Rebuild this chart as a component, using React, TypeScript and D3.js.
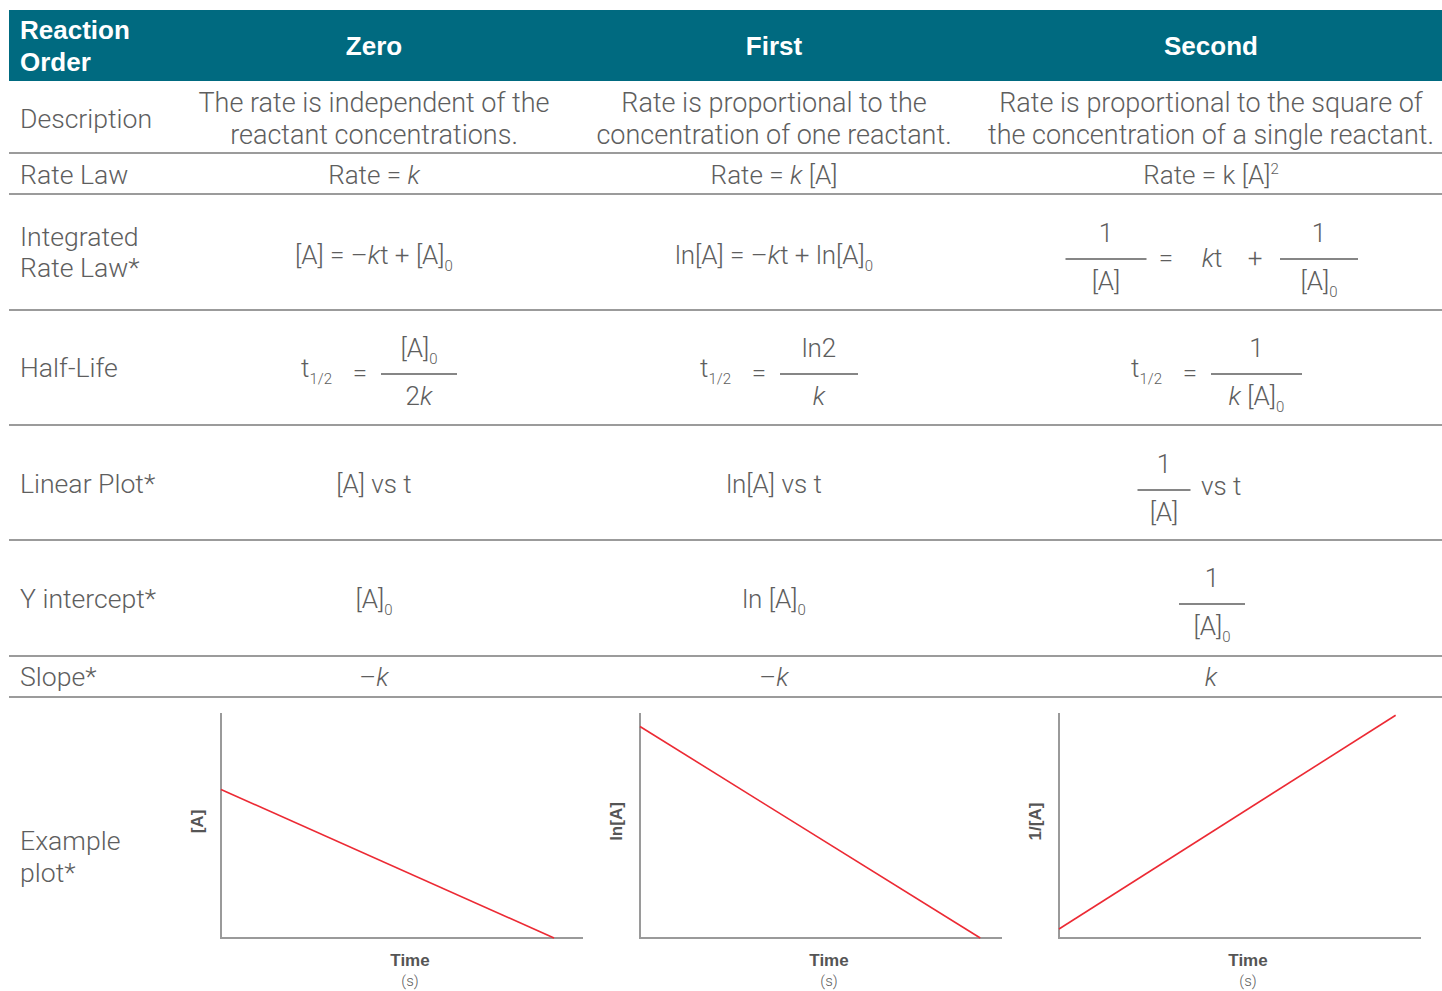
import React from "react";
import * as d3 from "d3";

// column headers and row labels
const orders = ["Zero", "First", "Second"];
const descriptions = [
  ["The rate is independent of the", "reactant concentrations."],
  ["Rate is proportional to the", "concentration of one reactant."],
  ["Rate is proportional to the square of", "the concentration of a single reactant."],
];
const linearPlots = ["[A] vs t", "ln[A] vs t"];
const yAxisLabels = ["[A]", "ln[A]", "1/[A]"];

// example plot lines, in % of each axis (time, y)
const zeroLine: [number, number][] = [[0, 66], [92, 0]];
const firstLine: [number, number][] = [[0, 94], [94, 0]];
const secondLine: [number, number][] = [[0, 4], [93, 99]];
const plotLines = [zeroLine, firstLine, secondLine];

const W = 1442;
const H = 991;
const colX = [374, 774, 1211];
const rowLines = [153, 194, 310, 425, 540, 656, 697];
const plotLeft = [221, 640, 1059];
const plotW = 362;
const plotTop = 713;
const plotBottom = 938;

const TEXT = "#5e5e5e";
const RULE = "#7a7a7a";
const TEAL = "#006a80";
const RED = "#ec2a34";

const body: React.CSSProperties = {
  fontFamily: "Roboto, 'Liberation Sans', sans-serif",
  fontWeight: 300,
  fontSize: 26,
  fill: TEXT,
};
const label: React.CSSProperties = { ...body, fontSize: 26.6 };
const desc: React.CSSProperties = { ...body, fontSize: 27 };
const small = 15;

const Frac = ({ x, y, w, num, den }: { x: number; y: number; w: number; num: React.ReactNode; den: React.ReactNode }) => (
  <g>
    <text x={x} y={y - 17} textAnchor="middle" style={body}>{num}</text>
    <line x1={x - w / 2} x2={x + w / 2} y1={y} y2={y} stroke={TEXT} strokeWidth={1.3} />
    <text x={x} y={y + 31} textAnchor="middle" style={body}>{den}</text>
  </g>
);

const Half = ({ x, num, den, w }: { x: number; num: React.ReactNode; den: React.ReactNode; w: number }) => (
  <g>
    <text x={x} y={377} style={body}>
      t<tspan fontSize={small} dy={7}>1/2</tspan>
    </text>
    <text x={x + 59} y={382} textAnchor="middle" style={body}>=</text>
    <Frac x={x + 80 + w / 2} y={374} w={w} num={num} den={den} />
  </g>
);

const Plot = ({ i }: { i: number }) => {
  const x = d3.scaleLinear().domain([0, 100]).range([plotLeft[i], plotLeft[i] + plotW]);
  const y = d3.scaleLinear().domain([0, 100]).range([plotBottom, plotTop]);
  const line = d3.line<[number, number]>().x((d) => x(d[0])).y((d) => y(d[1]));
  const cx = (x(0) + x(100)) / 2 + 8;
  const bold: React.CSSProperties = { fontFamily: "'Liberation Sans', Arial, sans-serif", fontWeight: 700, fontSize: 17, fill: "#555" };
  return (
    <g>
      <path d={`M${x(0)},${y(100)}V${y(0)}H${x(100)}`} fill="none" stroke="#9a9a9a" strokeWidth={2} />
      <path d={line(plotLines[i]) ?? ""} fill="none" stroke={RED} strokeWidth={1.6} />
      <text transform={`translate(${x(0) - 18},${y(50) - 4}) rotate(-90)`} textAnchor="middle" style={bold}>
        {yAxisLabels[i]}
      </text>
      <text x={cx} y={966} textAnchor="middle" style={bold}>Time</text>
      <text x={cx} y={986} textAnchor="middle" style={{ ...body, fontSize: 15 }}>(s)</text>
    </g>
  );
};

export default function App() {
  const head: React.CSSProperties = {
    fontFamily: "'Liberation Sans', Arial, sans-serif",
    fontWeight: 700,
    fontSize: 26,
    fill: "#fff",
  };
  return (
    <svg width={W} height={H} style={{ position: "absolute", left: 0, top: 0, background: "#fff" }}>
      {/* header band */}
      <rect x={9} y={10} width={W - 9} height={71} fill={TEAL} />
      <text x={20} y={39} style={head}>Reaction</text>
      <text x={20} y={71} style={head}>Order</text>
      {orders.map((o, i) => (
        <text key={o} x={colX[i]} y={55} textAnchor="middle" style={head}>{o}</text>
      ))}

      {rowLines.map((ry) => (
        <line key={ry} x1={9} x2={W} y1={ry} y2={ry} stroke={RULE} strokeWidth={1.6} />
      ))}

      {/* row labels */}
      <text x={20} y={128} style={label}>Description</text>
      <text x={20} y={184} style={label}>Rate Law</text>
      <text x={20} y={246} style={label}>Integrated</text>
      <text x={20} y={277} style={label}>Rate Law*</text>
      <text x={20} y={377} style={label}>Half-Life</text>
      <text x={20} y={493} style={label}>Linear Plot*</text>
      <text x={20} y={608} style={label}>Y intercept*</text>
      <text x={20} y={686} style={label}>Slope*</text>
      <text x={20} y={850} style={label}>Example</text>
      <text x={20} y={882} style={label}>plot*</text>

      {/* description */}
      {descriptions.map((d, i) => (
        <g key={i}>
          <text x={colX[i]} y={112} textAnchor="middle" style={desc}>{d[0]}</text>
          <text x={colX[i]} y={144} textAnchor="middle" style={desc}>{d[1]}</text>
        </g>
      ))}

      {/* rate law */}
      <text x={colX[0]} y={184} textAnchor="middle" style={body}>
        Rate = <tspan fontStyle="italic">k</tspan>
      </text>
      <text x={colX[1]} y={184} textAnchor="middle" style={body}>
        Rate = <tspan fontStyle="italic">k</tspan> [A]
      </text>
      <text x={colX[2]} y={184} textAnchor="middle" style={body}>
        Rate = k [A]<tspan fontSize={small} dy={-10}>2</tspan>
      </text>

      {/* integrated rate law */}
      <text x={colX[0]} y={264} textAnchor="middle" style={body}>
        [A] = –<tspan fontStyle="italic">k</tspan>t + [A]<tspan fontSize={small} dy={7}>0</tspan>
      </text>
      <text x={colX[1]} y={264} textAnchor="middle" style={body}>
        ln[A] = –<tspan fontStyle="italic">k</tspan>t + ln[A]<tspan fontSize={small} dy={7}>0</tspan>
      </text>
      <Frac x={1106} y={259} w={81} num="1" den="[A]" />
      <text x={1166} y={267} textAnchor="middle" style={body}>=</text>
      <text x={1212} y={267} textAnchor="middle" style={body}>
        <tspan fontStyle="italic">k</tspan>t
      </text>
      <text x={1255} y={267} textAnchor="middle" style={body}>+</text>
      <Frac x={1319} y={259} w={78} num="1" den={<>[A]<tspan fontSize={small} dy={7}>0</tspan></>} />

      {/* half-life */}
      <Half x={301} w={76} num={<>[A]<tspan fontSize={small} dy={7}>0</tspan></>} den={<>2<tspan fontStyle="italic">k</tspan></>} />
      <Half x={700} w={78} num="ln2" den={<tspan fontStyle="italic">k</tspan>} />
      <Half x={1131} w={91} num="1" den={<><tspan fontStyle="italic">k</tspan> [A]<tspan fontSize={small} dy={7}>0</tspan></>} />

      {/* linear plot */}
      {linearPlots.map((t, i) => (
        <text key={t} x={colX[i]} y={493} textAnchor="middle" style={body}>{t}</text>
      ))}
      <Frac x={1164} y={490} w={53} num="1" den="[A]" />
      <text x={1201} y={495} style={body}>vs t</text>

      {/* y intercept */}
      <text x={colX[0]} y={608} textAnchor="middle" style={body}>
        [A]<tspan fontSize={small} dy={7}>0</tspan>
      </text>
      <text x={colX[1]} y={608} textAnchor="middle" style={body}>
        ln [A]<tspan fontSize={small} dy={7}>0</tspan>
      </text>
      <Frac x={1212} y={604} w={66} num="1" den={<>[A]<tspan fontSize={small} dy={7}>0</tspan></>} />

      {/* slope */}
      <text x={colX[0]} y={686} textAnchor="middle" style={body}>–<tspan fontStyle="italic">k</tspan></text>
      <text x={colX[1]} y={686} textAnchor="middle" style={body}>–<tspan fontStyle="italic">k</tspan></text>
      <text x={colX[2]} y={686} textAnchor="middle" style={body}><tspan fontStyle="italic">k</tspan></text>

      {/* example plots */}
      {plotLines.map((_, i) => <Plot key={i} i={i} />)}
    </svg>
  );
}
